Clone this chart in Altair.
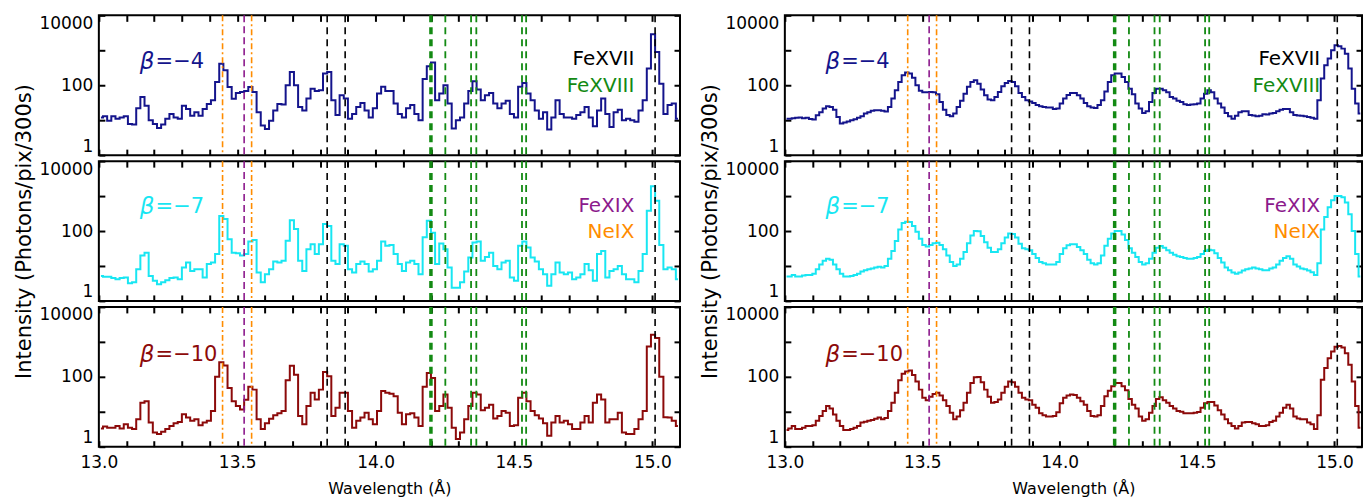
import altair as alt
import pandas as pd

# ---------------- data ----------------
X_MIN, X_MAX = 13.0, 15.1
Y_MIN, Y_MAX = 1, 10000
BIN_LEFT = 0.015     # bin width, left column (A)
BIN_RIGHT = 0.0125   # bin width, right column (B)

X_TICKS = [13.0, 13.1, 13.2, 13.3, 13.4, 13.5, 13.6, 13.7, 13.8, 13.9, 14.0,
           14.1, 14.2, 14.3, 14.4, 14.5, 14.6, 14.7, 14.8, 14.9, 15.0]
Y_TICKS = [1, 10, 100, 1000, 10000]

# left column spectra (photons/pix/300s), bins of 0.015 A starting at 13.0 A
left_b4 = [12, 13, 9.7, 13, 11, 12, 13, 7.8, 7.5, 22,
           46, 26, 10, 7.8, 6, 7.5, 11, 15, 12, 11,
           26, 21, 13.5, 17, 13.5, 21, 29, 37, 124, 415,
           268, 89, 41, 60, 64, 68, 89, 64, 17, 7,
           5.6, 9.7, 19, 29, 28, 100, 240, 100, 24, 19,
           42, 80, 68, 72, 215, 240, 37, 14, 52, 42,
           11, 15, 24, 31, 19, 12, 22, 58, 90, 68,
           68, 30, 15, 12, 22, 27, 15, 10, 150, 350,
           450, 37, 58, 100, 30, 5.8, 10, 12, 30, 68,
           130, 75, 37, 52, 60, 30, 22, 30, 36, 15,
           12, 90, 115, 58, 37, 19, 11, 17, 5.4, 12,
           37, 15, 12, 12, 11, 14, 17, 24, 12, 6.7,
           19, 42, 15, 6.4, 17, 20, 10, 11, 10, 9,
           19, 37, 300, 2900, 900, 110, 15, 27, 30, 11]
left_b7 = [5.2, 4.9, 4.9, 4.5, 4.2, 4.5, 4.7, 3.2, 3.4, 8,
           20, 24, 5.2, 3.75, 3, 3.4, 3.9, 4.5, 4.7, 4.2,
           9, 12.6, 7.2, 8, 8, 4.7, 11.3, 12.6, 22, 270,
           220, 58, 24, 23, 20, 22, 50, 55, 6.5, 3.4,
           5.8, 8, 13.5, 12.6, 14, 53, 205, 115, 14, 7.2,
           30, 42, 22, 42, 159, 140, 14, 11.3, 42, 38,
           8, 6.5, 11.3, 13.5, 11.3, 7, 8, 14, 50, 38,
           40, 22, 11.3, 7.2, 12.6, 14, 11.3, 5.8, 66, 198,
           90, 11.3, 44, 30, 9, 2.4, 2.4, 3.4, 7, 17.5,
           47, 50, 14, 18, 24, 10, 8, 12.6, 14, 4.7,
           3.75, 38, 50, 34, 17.5, 13.5, 8, 5.8, 2.7, 5.8,
           12.6, 6.5, 5.8, 6.5, 4.2, 4.7, 5.8, 11.3, 7.6, 3.75,
           22, 27, 4.7, 7.2, 8, 10, 5.8, 4.2, 4.2, 3.4,
           7.2, 22, 383, 1900, 740, 40, 8, 9, 8, 4.2]
left_b10 = [3.3, 3.8, 3.5, 3.5, 3.9, 3.3, 4.4, 3.5, 3.2, 6.1,
            18, 20, 4.9, 2.55, 2.3, 2.7, 3.2, 3.9, 4.7, 5.1,
            8.5, 6.8, 5.5, 6.1, 4.1, 4.9, 5.5, 10.5, 100, 260,
            210, 48, 20, 14.6, 11.7, 22, 52, 43, 6.1, 3.2,
            4.7, 6.3, 7.9, 9, 10.5, 80, 207, 114, 7.6, 4.4,
            14.6, 35, 22.5, 43, 137, 103, 7.6, 13, 35, 35,
            10.5, 3.5, 5.5, 6.8, 9.4, 6.1, 4.4, 10.5, 39, 35,
            33, 28, 9.4, 4.4, 8.5, 9, 6.8, 3.9, 52, 128,
            92, 10.5, 14.6, 31, 13, 3.5, 1.65, 2.55, 6.1, 14.6,
            35, 31, 11, 13, 16, 6.4, 7.6, 10.5, 9.4, 3.9,
            4.1, 25, 35, 20, 10.5, 7.9, 6.4, 4.7, 2.05, 4.9,
            7.6, 4.9, 5.5, 4.4, 3.2, 3.2, 4.9, 7.6, 4.9, 18,
            31, 22.5, 4.9, 6.1, 6.1, 9.4, 2.55, 2.3, 2.3, 3.2,
            6.1, 10.5, 740, 1600, 1300, 100, 7, 6.8, 5.5, 3.9]

# right column spectra, bins of 0.0125 A starting at 13.0 A
right_b4 = [11, 11, 11.4, 11.7, 12, 11.4, 11.7, 10.9, 10.4, 13.9,
            17, 21.6, 25, 24, 20, 12.4, 8, 8.6, 9.2, 10,
            10.7, 11.7, 13, 15.5, 16.9, 18.5, 19.3, 19.3, 18.5, 17.7,
            24, 41.6, 72, 124, 193, 230, 215, 165, 100, 69,
            63, 63, 64, 63, 55, 33, 20, 14, 13, 15.5,
            24, 36, 57, 90, 124, 139, 111, 75, 52, 39,
            37, 46, 64, 94, 116, 133, 124, 94, 60, 46,
            37, 34, 31, 27, 25, 24, 23, 23, 21, 21.6,
            30, 42, 53, 60, 60, 52, 42, 31, 25, 23,
            22.5, 27, 37, 66, 124, 193, 215, 215, 172, 124,
            80, 55, 30, 21.6, 16, 18, 33, 60, 79, 80,
            72, 63, 46, 42, 36, 33, 28.5, 27, 28, 28.5,
            30, 42, 57, 72, 63, 42, 30, 23, 16, 13,
            11, 13.3, 17, 18, 18, 14, 13.7, 13, 13.3, 14.8,
            14.5, 15.5, 16, 18, 20, 21, 21, 17, 14, 13.7,
            13.3, 13, 12.4, 11.7, 11, 37, 155, 372, 578, 1000,
            1390, 1300, 1116, 800, 300, 80, 30, 15.5]
right_b7 = [5, 5, 5.5, 5, 5, 5.3, 5.5, 5.5, 6, 8,
            11, 14, 16, 15, 11, 8, 6, 5, 5, 5.2,
            5.5, 6, 7, 7.5, 8, 8.5, 9, 9.5, 9, 10,
            16, 27, 52, 110, 170, 185, 180, 140, 95, 60,
            40, 36, 40, 45, 46, 40, 30, 20, 13, 10,
            11, 16, 25, 45, 75, 100, 98, 72, 48, 33,
            25, 25, 30, 45, 65, 85, 82, 65, 43, 32,
            30, 28, 22, 17, 13, 12, 11, 11, 11, 13,
            22, 32, 39, 42, 42, 35, 28, 22, 15, 12,
            11, 12, 20, 38, 60, 85, 100, 100, 80, 55,
            32, 24, 18, 13, 11, 12, 16, 24, 33, 37,
            33, 28, 24, 21, 19, 18, 17, 16, 16, 17,
            18, 22, 27, 29, 28, 23, 17, 12.6, 9, 7.5,
            6.5, 6, 6.5, 7.4, 8, 8.5, 9, 8.5, 8, 7.6,
            7.6, 8.5, 9, 11, 14, 17, 19, 16, 11, 9.6,
            8.5, 8, 7.4, 6.6, 5.5, 12, 110, 250, 480, 760,
            1000, 1000, 920, 650, 300, 100, 22, 5]
right_b10 = [3.0, 3.3, 3.9, 3.2, 3.2, 3.5, 3.9, 3.9, 4.1, 5.5,
             7.6, 10.5, 14.6, 12.3, 8.4, 5.5, 3.9, 3, 3, 3.2,
             3.5, 3.9, 4.9, 5.2, 5.5, 5.8, 6.3, 6.8, 6.1, 6.6,
             10.5, 18, 35, 80, 123, 143, 152, 113, 74, 43,
             25, 21.5, 27, 32, 35, 29, 21.5, 14.6, 9.4, 6.1,
             7.3, 11, 18, 35, 67, 97, 98, 70, 43, 27,
             18, 19, 22.5, 35, 52, 74, 70, 52, 35, 25,
             22.5, 21.5, 16, 13, 9, 7.9, 7.3, 7.3, 7.6, 9.7,
             17.5, 25, 29, 31, 30, 25, 20, 16, 10.5, 7.6,
             7.3, 7.9, 14.6, 28, 40, 54, 67, 67, 54, 41,
             23, 16, 12.3, 7.3, 5.5, 6.1, 9.4, 14.6, 23, 26,
             21.5, 18, 14.6, 12.3, 10.5, 10, 9, 9, 9, 9.4,
             9.8, 13, 17.5, 19, 19, 15, 11, 8.4, 6.1, 4.7,
             3.9, 3.3, 3.9, 4.9, 5.1, 5.1, 4.7, 4.4, 3.9, 3.9,
             4.1, 5.1, 5.5, 7.3, 9.4, 13, 16, 12.3, 7.3, 6.4,
             6.1, 6.1, 4.9, 4.4, 3.2, 8, 83, 178, 340, 530,
             730, 760, 690, 475, 220, 74, 14.6, 3.5]

# line identifications (A)
NEIX_WL = [13.447, 13.552]
FEXIX_WL = [13.525]
FEXVII_WL = [13.825, 13.89, 15.01]
FEXVIII_WL = [14.252, 14.345, 14.364, 14.529, 14.544]
FEXVIII_STRONG_WL = [14.20]

BETA_LABELS = ["=\u22124", "=\u22127", "=\u221210"]

NAVY = "#14148c"
CYAN = "#18e6f2"
DARKRED = "#8c0a0a"
ORANGE = "#ff8c00"
PURPLE = "#8c1a8c"
GREEN = "#138a13"
SERIES_COLORS = [NAVY, CYAN, DARKRED]

FONT = "DejaVu Sans"
W_LEFT, W_RIGHT, H = 582, 578, 140


def series_df(vals, step):
    wl = [round(X_MIN + step * (i + 0.5), 5) for i in range(len(vals))]
    return pd.DataFrame({"wl": wl, "I": vals})


def panel(vals, step, row, col):
    color = SERIES_COLORS[row]
    width = W_LEFT if col == 0 else W_RIGHT
    df = series_df(vals, step)
    xs = alt.Scale(domain=[X_MIN, X_MAX], nice=False, zero=False)
    ys = alt.Scale(type="log", domain=[Y_MIN, Y_MAX], nice=False)

    xa = dict(values=X_TICKS, orient="bottom", offset=-6, tickSize=6, domain=False,
              grid=False, labelOverlap=False, labelPadding=8, labelFlush=False)
    if row == 2:
        xa.update(labelExpr="abs(datum.value*2 - round(datum.value*2)) < 0.001 ? format(datum.value, '.1f') : ''",
                  title="Wavelength (\u00c5)", titlePadding=10)
    else:
        xa.update(labels=False, title=None)
    ya = dict(values=Y_TICKS, orient="left", offset=-6, tickSize=6, domain=False,
              grid=False, labelOverlap=False, labelPadding=6, labelFlush=True,
              labelExpr="datum.value == 1 || datum.value == 100 || datum.value == 10000 ? format(datum.value, 'd') : ''")
    if row == 1:
        ya.update(title="Intensity (Photons/pix/300s)", titlePadding=4)
    else:
        ya.update(title=None)

    line = alt.Chart(df).mark_line(interpolate="step", color=color, strokeWidth=2, clip=True).encode(
        x=alt.X("wl:Q", scale=xs, axis=alt.Axis(**xa)),
        y=alt.Y("I:Q", scale=ys, axis=alt.Axis(**ya)),
    )
    frame = alt.Chart(df).mark_point(opacity=0).encode(
        x=alt.X("wl:Q", scale=xs, axis=alt.Axis(values=X_TICKS, orient="top", offset=-6, tickSize=6,
                                                 domain=False, grid=False, labels=False, title=None)),
        y=alt.Y("I:Q", scale=ys, axis=alt.Axis(values=Y_TICKS, orient="right", offset=-6, tickSize=6,
                                                domain=False, grid=False, labels=False, title=None)),
    )

    def vrules(wls, c, dash, w):
        return alt.Chart(pd.DataFrame({"wl": wls})).mark_rule(
            color=c, strokeDash=dash, strokeWidth=w).encode(
            x=alt.X("wl:Q", scale=xs, axis=None))

    rules = [
        vrules(NEIX_WL, ORANGE, [6, 3, 2, 3], 1.6),
        vrules(FEXIX_WL, PURPLE, [7, 4], 1.6),
        vrules(FEXVII_WL, "black", [7, 5], 1.6),
        vrules(FEXVIII_WL, GREEN, [7, 5], 1.8),
        vrules(FEXVIII_STRONG_WL, GREEN, [7, 5], 3.5),
    ]

    def label(wl, inten, txt, c, size, align="left", style="normal"):
        return alt.Chart(pd.DataFrame({"wl": [wl], "I": [inten], "t": [txt]})).mark_text(
            color=c, fontSize=size, font=FONT, align=align, baseline="middle", fontStyle=style).encode(
            x=alt.X("wl:Q", scale=xs, axis=None),
            y=alt.Y("I:Q", scale=ys, axis=None),
            text="t:N")

    beta_y = [450, 490, 415][row]
    texts = [label(13.148, beta_y, "\u03b2", color, 23, style="italic"),
             label(13.205, beta_y, BETA_LABELS[row], color, 21)]
    rx = 14.935 if col == 0 else 14.948
    if row == 0:
        texts += [label(rx, 575, "FeXVII", "black", 20, align="right"),
                  label(rx, 97, "FeXVIII", GREEN, 20, align="right")]
    elif row == 1:
        texts += [label(rx, 520, "FeXIX", PURPLE, 20, align="right"),
                  label(rx, 94, "NeIX", ORANGE, 20, align="right")]

    return alt.layer(line, *rules, *texts, frame).resolve_axis(
        x="independent", y="independent").properties(width=width, height=H)


panels = []
left = [left_b4, left_b7, left_b10]
right = [right_b4, right_b7, right_b10]
for r in range(3):
    panels.append(panel(left[r], BIN_LEFT, r, 0))
    panels.append(panel(right[r], BIN_RIGHT, r, 1))

chart = alt.concat(*panels, columns=2, bounds="flush", spacing={"row": 6, "column": 105}).properties(
    padding={"left": 12, "top": 12, "right": 4, "bottom": 2}
).configure_view(stroke="black", strokeWidth=2).configure_axis(
    labelFont=FONT, labelFontSize=17, labelColor="black",
    titleFont=FONT, titleFontSize=16, titleFontWeight="normal", titleColor="black",
    tickColor="black", tickWidth=2
).configure_axisLeft(titleFontSize=21)

chart.save("out.html", embed_options={"renderer": "svg", "actions": False})
